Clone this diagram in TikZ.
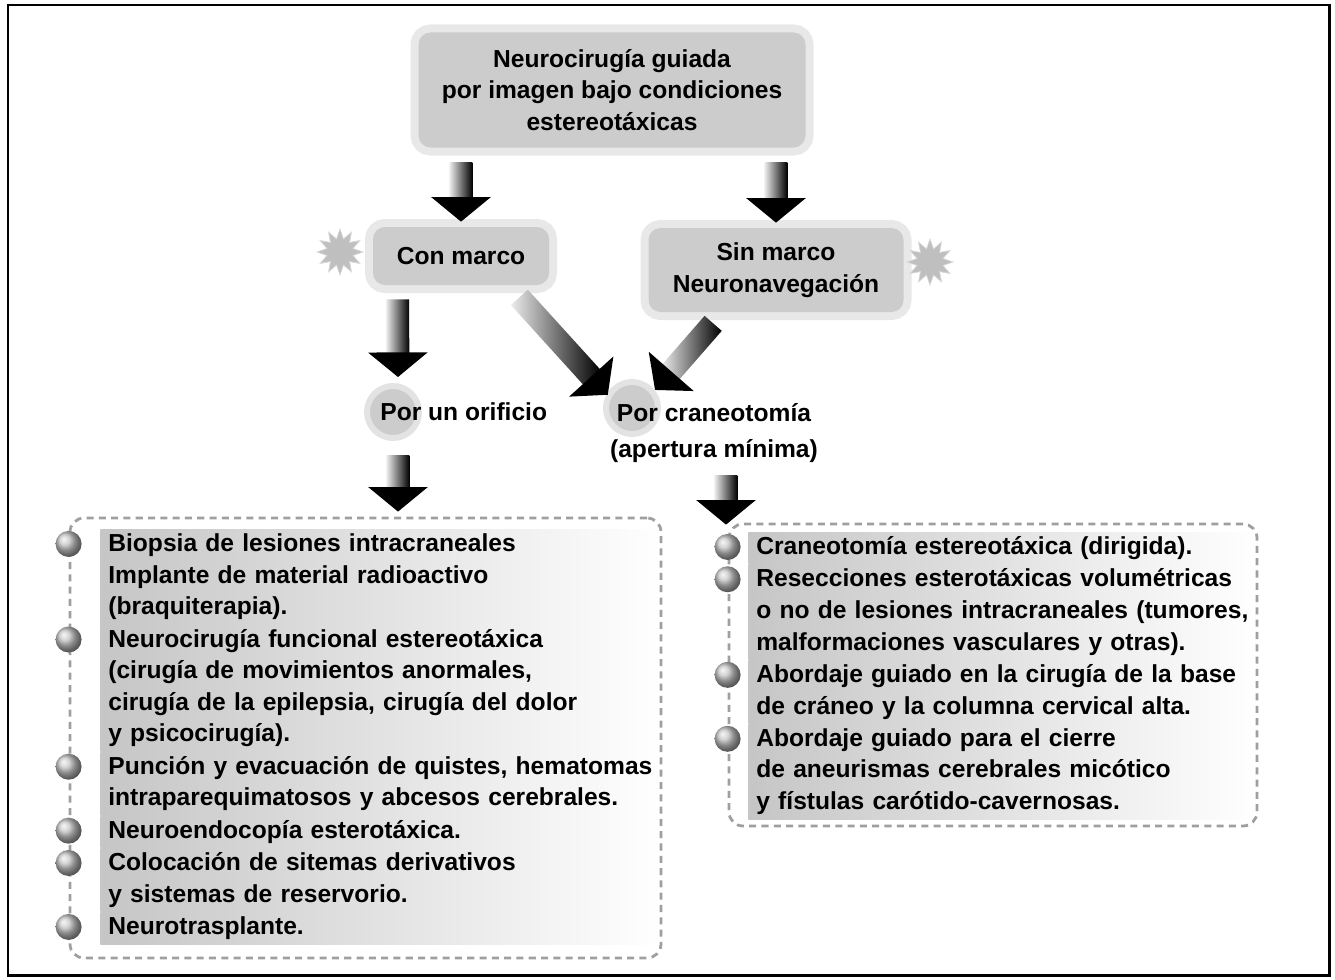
\documentclass[tikz,border=0pt]{standalone}
\usepackage{fontspec}
\setmainfont{Liberation Sans}
\usetikzlibrary{positioning,calc,shapes.geometric}

\def\U{0.02cm}
\newcommand\fuente{\fontsize{14}{18}\selectfont\bfseries}

% flecha gruesa de un punto a otro
\newcommand\flecha[2]{%
  \path let \p1=(#1), \p2=(#2) in \pgfextra{%
    \pgfmathsetmacro\AngF{atan2(\y2-\y1,\x2-\x1)}%
    \pgfmathsetmacro\LenF{veclen(\x2-\x1,\y2-\y1)}%
    \xdef\AngF{\AngF}\xdef\LenF{\LenF}};
  \pic[rotate=\AngF] at (#1) {flecha};
}

\tikzset{
  caja/.style={fill=gray!40, rounded corners=12*\U, align=center, font=\fuente,
    inner sep=0pt, preaction={draw=gray!18, line width=16*\U}},
  punto/.style={circle, fill=gray!40, draw=gray!22, line width=6*\U,
    minimum size=52*\U, inner sep=0pt},
  bola/.style={circle, ball color=gray!45, minimum size=26*\U, inner sep=0pt},
  sol/.style={star, star points=12, star point ratio=1.7, fill=gray!50,
    draw=gray!30, minimum size=46*\U, inner sep=0pt},
  lista/.style={draw=gray!75, dash pattern=on 4pt off 3pt, line width=1.6pt,
    rounded corners=14*\U, inner sep=0pt},
  item/.style={anchor=north west, text width=#1, align=left, inner xsep=8*\U,
    inner ysep=0pt, font=\fuente, left color=gray!45, right color=white,
    execute at begin node=\strut, execute at end node=\strut},
  texto/.style={font=\fuente, align=center, inner sep=0pt},
  pics/flecha/.style={code={
    \shade[left color=gray!15, right color=black]
      (0,-6.5pt) rectangle ({\LenF pt-13pt},6.5pt);
    \fill[black] ({\LenF pt-14pt},-17pt) -- ({\LenF pt},0pt)
      -- ({\LenF pt-14pt},17pt) -- cycle;
  }}
}

\begin{document}
\begin{tikzpicture}[x=\U,y=-\U]

% ============================================================
% marco
% ============================================================

\useasboundingbox (0,0) rectangle (1335,980);
\draw[line width=1.7pt] (8,5) rectangle (1329,975);

% ============================================================
% cajas de arriba
% ============================================================

\node[caja, minimum width=387*\U, minimum height=115*\U] (top) at (612,90)
  {Neurocirugía guiada\\por imagen bajo condiciones\\estereotáxicas};

\node[caja, minimum width=176*\U, minimum height=58*\U] (conmarco) at (461,256)
  {Con marco};
\node[caja, minimum width=255*\U, minimum height=84*\U] (sinmarco) at (776,270)
  {Sin marco\\Neuronavegación};

\node[sol] (sol1) at (340,252) {};
\node[sol] (sol2) at (930,262) {};

% ============================================================
% vias
% ============================================================

\node[punto] (cO) at (393,412) {};
\node[texto, anchor=west] (orificio) at (380,412) {Por un orificio};

\node[punto] (cC) at (632,408) {};
\node[texto] (craneo) at (714,433) {Por craneotomía\\[3pt](apertura mínima)};

% ============================================================
% listas
% ============================================================

\node[item=546*\U] (i1) at (100,529)
  {Biopsia de lesiones intracraneales\\Implante de material radioactivo\\(braquiterapia).};
\node[item=546*\U] (i2) at (i1.south west)
  {Neurocirugía funcional estereotáxica\\(cirugía de movimientos anormales,\\cirugía de la epilepsia, cirugía del dolor\\y psicocirugía).};
\node[item=546*\U] (i3) at (i2.south west)
  {Punción y evacuación de quistes, hematomas\\intraparequimatosos y abcesos cerebrales.};
\node[item=546*\U] (i4) at (i3.south west)
  {Neuroendocopía esterotáxica.};
\node[item=546*\U] (i5) at (i4.south west)
  {Colocación de sitemas derivativos\\y sistemas de reservorio.};
\node[item=546*\U] (i6) at (i5.south west)
  {Neurotrasplante.};

\node[item=493*\U] (r1) at (748,532)
  {Craneotomía estereotáxica (dirigida).};
\node[item=493*\U] (r2) at (r1.south west)
  {Resecciones esterotáxicas volumétricas\\o no de lesiones intracraneales (tumores,\\malformaciones vasculares y otras).};
\node[item=493*\U] (r3) at (r2.south west)
  {Abordaje guiado en la cirugía de la base\\de cráneo y la columna cervical alta.};
\node[item=493*\U] (r4) at (r3.south west)
  {Abordaje guiado para el cierre\\de aneurismas cerebrales micótico\\y fístulas carótido-cavernosas.};

\node[lista, minimum width=591*\U, minimum height=440*\U] (cajaL) at (365.5,738) {};
\node[lista, minimum width=528*\U, minimum height=302*\U] (cajaR) at (993,675) {};

\foreach \i in {1,...,6}
  \node[bola] (bl\i) at ($(i\i.north west -| cajaL.west)+(0,-8.5pt)$) {};
\foreach \i in {1,...,4}
  \node[bola] (br\i) at ($(r\i.north west -| cajaR.west)+(0,-8.5pt)$) {};

% ============================================================
% flechas
% ============================================================

\flecha{$(top.south -| conmarco.north)+(0,15)$}{$(conmarco.north)+(0,-5)$}
\flecha{$(top.south -| sinmarco.north)+(0,15)$}{$(sinmarco.north)+(0,-5)$}
\flecha{$(conmarco.south west)+(25,14)$}{$(cO.north)+(5,-6)$}
\flecha{$(conmarco.south east)+(-30,12)$}{$(cC.center)+(-24,-13)$}
\flecha{$(sinmarco.south west)+(65,11)$}{$(cC.center)+(23,-18)$}
\flecha{$(cO.south)+(5,14)$}{$(cajaL.north -| cO)+(5,-5)$}
\flecha{$(craneo.south)+(12,12)$}{$(cajaR.north -| craneo.south)+(12,2)$}

\end{tikzpicture}
\end{document}
